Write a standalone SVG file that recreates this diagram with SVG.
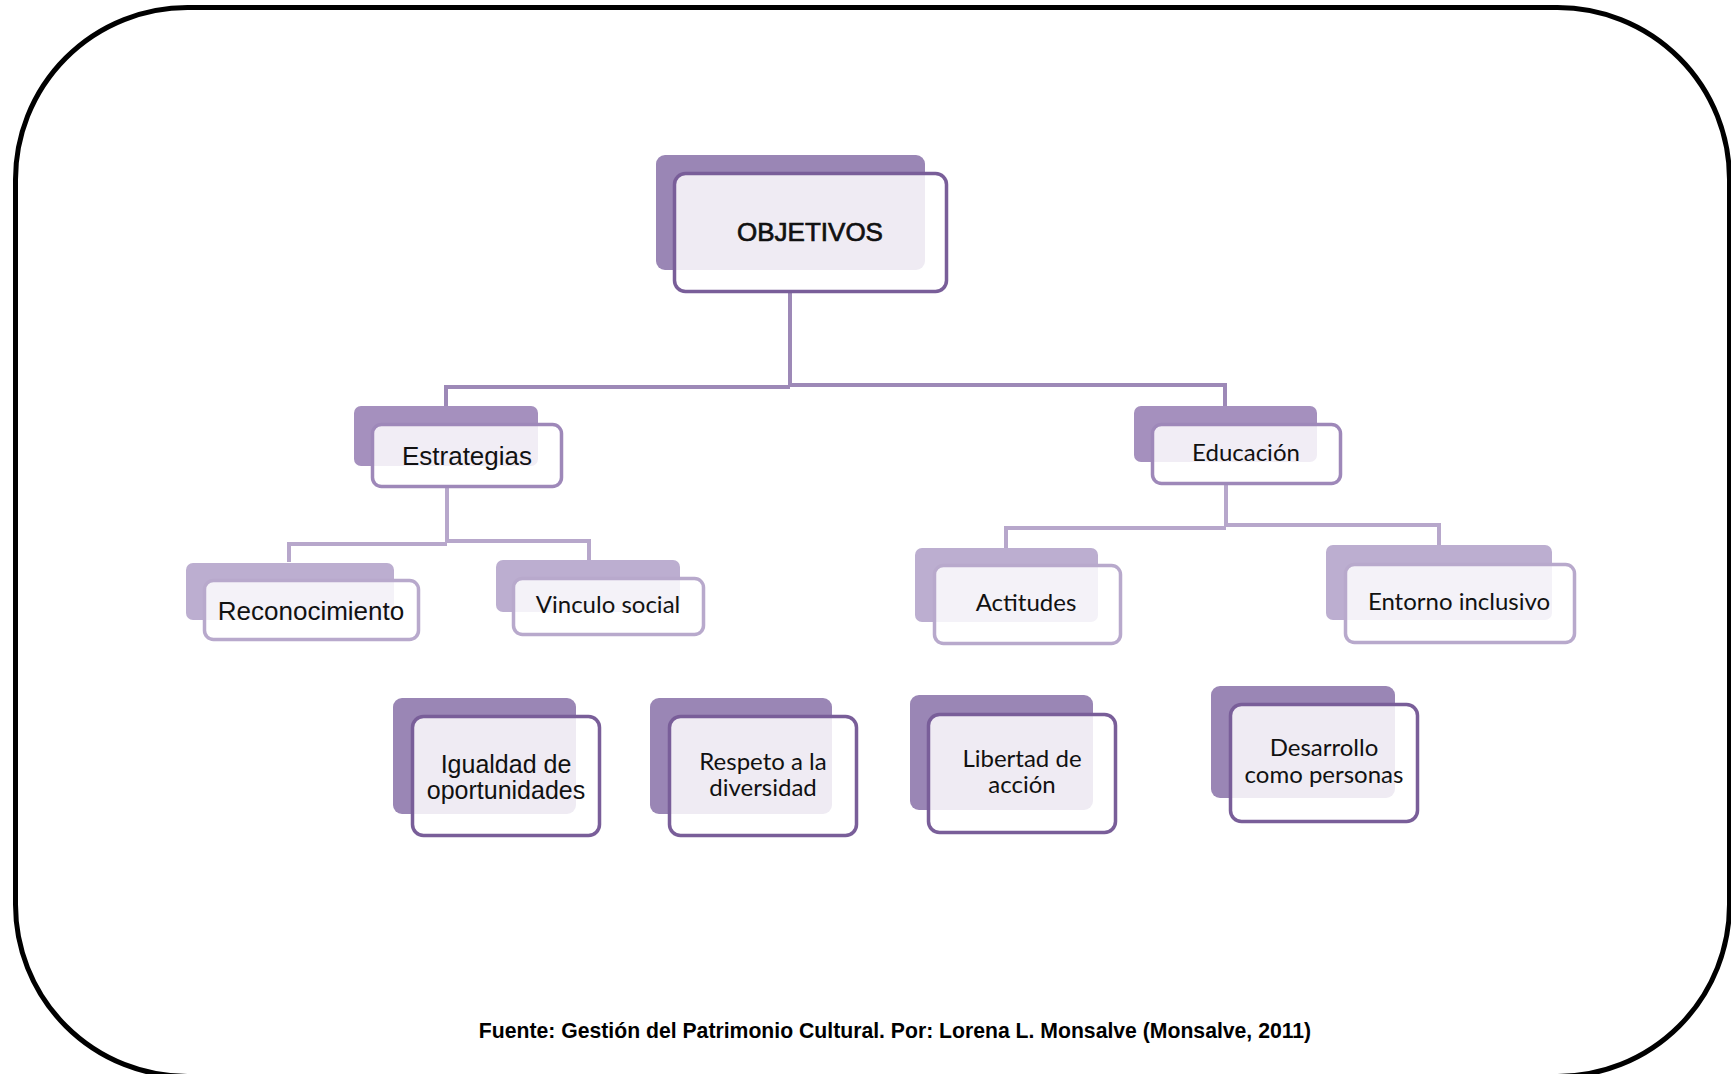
<svg xmlns="http://www.w3.org/2000/svg" width="1731" height="1074" viewBox="0 0 1731 1074">
<style>
.bg{fill:#ffffff}
.frame{fill:none;stroke:#000;stroke-width:5}
.back{stroke:none}
.front{fill:#ffffff;fill-opacity:0.84;stroke-width:3.5}
.dark .back{fill:#9a86b5}
.dark .front{stroke:#795e99}
.mid .back{fill:#a590be}
.mid .front{stroke:#9e88b9}
.light .back{fill:#bcaed0}
.light .front{stroke:#b8a9cc}
.ar{font-family:"Liberation Sans",Arial,sans-serif;font-size:26px;fill:#111;text-anchor:middle}
.ar2{font-family:"Liberation Sans",Arial,sans-serif;font-size:25px;fill:#111;text-anchor:middle}
.title{stroke:#111;stroke-width:0.7}
.ca{font-family:Lato,"Open Sans",sans-serif;font-size:24px;fill:#111;text-anchor:middle}
.foot{font-family:"Liberation Sans",Arial,sans-serif;font-size:21.2px;font-weight:bold;fill:#000;text-anchor:middle}
.c1{fill:none;stroke:#9d89b7;stroke-width:4}
.c2{fill:none;stroke:#b7a7cb;stroke-width:4}
</style>
<rect class="bg" x="0" y="0" width="1731" height="1074"/>
<rect class="frame" x="15.5" y="7.5" width="1714" height="1069" rx="172" ry="172"/>

<g id="connectors">
<polyline class="c1" points="790,293 790,387"/>
<polyline class="c1" points="446,407 446,387 790,387"/>
<polyline class="c1" points="790,385 1225,385 1225,406"/>
<polyline class="c2" points="447,488 447,543"/>
<polyline class="c2" points="289,562 289,544 447,544"/>
<polyline class="c2" points="447,541 589,541 589,560"/>
<polyline class="c2" points="1226,485 1226,527"/>
<polyline class="c2" points="1006,548 1006,528 1226,528"/>
<polyline class="c2" points="1226,525 1439,525 1439,545"/>
</g>

<g id="objetivos" class="dark">
<rect class="back" x="656" y="155" width="269" height="115" rx="9"/>
<rect class="front" x="674.5" y="173.5" width="272" height="118" rx="11"/>
<text class="ar title" x="810" y="241">OBJETIVOS</text>
</g>

<g id="estrategias" class="mid">
<rect class="back" x="354" y="406" width="184" height="60" rx="7"/>
<rect class="front" x="372.5" y="424.5" width="189" height="62" rx="9"/>
<text class="ar" x="467" y="465">Estrategias</text>
</g>

<g id="educacion" class="mid">
<rect class="back" x="1134" y="406" width="183" height="56" rx="7"/>
<rect class="front" x="1152.5" y="424.5" width="188" height="59" rx="9"/>
<text class="ca" x="1246" y="461">Educación</text>
</g>

<g id="reconocimiento" class="light">
<rect class="back" x="186" y="563" width="208" height="57" rx="7"/>
<rect class="front" x="204.5" y="580.5" width="214" height="59" rx="9"/>
<text class="ar" x="311" y="620">Reconocimiento</text>
</g>

<g id="vinculo" class="light">
<rect class="back" x="496" y="560" width="184" height="52" rx="7"/>
<rect class="front" x="513.5" y="578.5" width="190" height="56" rx="9"/>
<text class="ca" x="608" y="613">Vinculo social</text>
</g>

<g id="actitudes" class="light">
<rect class="back" x="915" y="548" width="183" height="74" rx="7"/>
<rect class="front" x="934.5" y="565.5" width="186" height="78" rx="9"/>
<text class="ca" x="1026" y="611">Actitudes</text>
</g>

<g id="entorno" class="light">
<rect class="back" x="1326" y="545" width="226" height="75" rx="7"/>
<rect class="front" x="1345.5" y="564.5" width="229" height="78" rx="9"/>
<text class="ca" x="1459" y="610">Entorno inclusivo</text>
</g>

<g id="igualdad" class="dark">
<rect class="back" x="393" y="698" width="183" height="116" rx="9"/>
<rect class="front" x="412.5" y="716.5" width="187" height="119" rx="11"/>
<text class="ar2" x="506" y="773">Igualdad de</text>
<text class="ar2" x="506" y="799">oportunidades</text>
</g>

<g id="respeto" class="dark">
<rect class="back" x="650" y="698" width="182" height="116" rx="9"/>
<rect class="front" x="669.5" y="716.5" width="187" height="119" rx="11"/>
<text class="ca" x="763" y="770">Respeto a la</text>
<text class="ca" x="763" y="796">diversidad</text>
</g>

<g id="libertad" class="dark">
<rect class="back" x="910" y="695" width="183" height="115" rx="9"/>
<rect class="front" x="928.5" y="714.5" width="187" height="118" rx="11"/>
<text class="ca" x="1022" y="767">Libertad de</text>
<text class="ca" x="1022" y="793">acción</text>
</g>

<g id="desarrollo" class="dark">
<rect class="back" x="1211" y="686" width="184" height="112" rx="9"/>
<rect class="front" x="1230.5" y="704.5" width="187" height="117" rx="11"/>
<text class="ca" x="1324" y="756">Desarrollo</text>
<text class="ca" x="1324" y="783">como personas</text>
</g>

<text class="foot" x="895" y="1038">Fuente: Gestión del Patrimonio Cultural. Por: Lorena L. Monsalve (Monsalve, 2011)</text>
</svg>
